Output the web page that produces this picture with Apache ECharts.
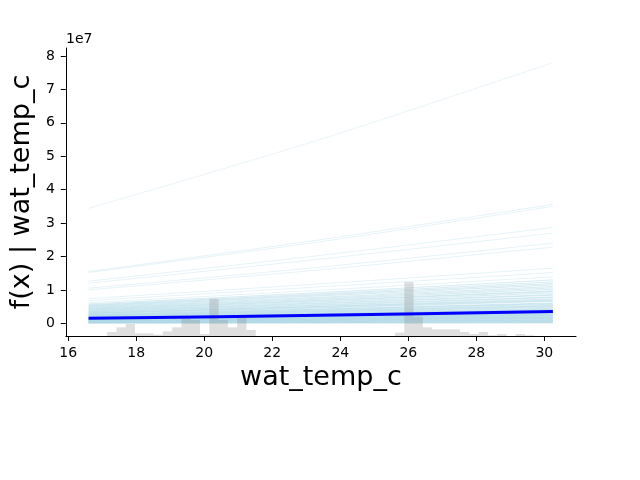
<!DOCTYPE html>
<html lang="en">
<head>
    <meta charset="UTF-8">
    <title>wat_temp_c partial dependence</title>
    <script src="https://cdn.jsdelivr.net/npm/echarts@6/dist/echarts.min.js"></script>
</head>
<body style="margin:0;">
<div id="main" style="width:640px;height:480px;"></div>

<script type="text/javascript">
    // grid points where the ICE / PD curves are read (wat_temp_c)
    var gridX = [16.6, 23.4, 30.25];

    // ICE curves, values in millions: [at 16.6, at 23.4, at 30.25]
    var iceLines = [
        [34.4, 55.0, 78.0],
        [15.5, 25.0, 35.6], [15.2, 24.4, 35.0],
        [12.6, 20.3, 28.7], [12.0, 19.2, 27.0],
        [10.5, 16.8, 24.0], [10.0, 16.0, 22.8],
        [7.4, 11.8, 16.5], [6.8, 10.9, 15.2], [6.2, 9.9, 13.9],
        [5.8, 9.2, 13.0], [5.5, 8.8, 12.4], [5.3, 8.5, 11.9], [5.1, 8.2, 11.5],
        [4.9, 7.8, 11.0], [4.7, 7.5, 10.6], [4.5, 7.2, 10.2], [4.3, 6.9, 9.7],
        [4.2, 6.7, 9.5], [4.0, 6.4, 9.1], [3.8, 6.1, 8.6], [3.7, 5.9, 8.4],
        [3.5, 5.6, 7.9], [3.4, 5.4, 7.7], [3.2, 5.1, 7.3], [3.1, 5.0, 7.0],
        [3.0, 4.8, 6.8], [2.9, 4.6, 6.6], [2.7, 4.3, 6.1], [2.6, 4.2, 5.9],
        [2.5, 4.0, 5.7], [2.4, 3.8, 5.4], [2.3, 3.7, 5.2], [2.2, 3.5, 5.0],
        [2.1, 3.4, 4.8], [2.0, 3.2, 4.5], [1.9, 3.0, 4.3], [1.8, 2.9, 4.1],
        [1.75, 2.8, 4.0], [1.7, 2.7, 3.9], [1.65, 2.65, 3.75], [1.6, 2.6, 3.6],
        [1.55, 2.5, 3.5], [1.5, 2.4, 3.4], [1.45, 2.3, 3.3], [1.4, 2.2, 3.2],
        [1.35, 2.15, 3.1], [1.3, 2.1, 3.0], [1.25, 2.0, 2.85], [1.2, 1.9, 2.7],
        [1.15, 1.8, 2.6], [1.1, 1.8, 2.5], [1.05, 1.7, 2.4], [1.0, 1.6, 2.3],
        [0.95, 1.5, 2.2], [0.9, 1.4, 2.0], [0.85, 1.35, 1.9], [0.8, 1.3, 1.8],
        [0.75, 1.2, 1.7], [0.7, 1.1, 1.6], [0.65, 1.05, 1.5], [0.6, 1.0, 1.4],
        [0.55, 0.9, 1.25], [0.5, 0.8, 1.1], [0.45, 0.7, 1.0], [0.4, 0.65, 0.9],
        [0.35, 0.55, 0.8], [0.3, 0.5, 0.7], [0.25, 0.4, 0.55], [0.2, 0.3, 0.45],
        [0.15, 0.25, 0.35], [0.1, 0.15, 0.2], [0.05, 0.08, 0.1]
    ];

    // average (partial dependence), millions
    var pdValues = [1.5, 2.4, 3.5];

    // histogram of wat_temp_c, 50 bins between the data extremes
    var histLo = 16.6;
    var histHi = 30.25;
    var histCounts = [
        0, 0, 6, 13, 18, 4, 4, 2, 7, 13,
        26, 24, 3, 56, 24, 13, 28, 9, 0, 0,
        0, 0, 0, 0, 0, 0, 0, 0, 0, 0,
        0, 0, 0, 5, 81, 29, 13, 10, 10, 10,
        6, 3, 6, 1, 3, 0, 3, 1, 0, 0
    ];

    var xTicks = [16, 18, 20, 22, 24, 26, 28, 30];
    var yTicks = [0, 10, 20, 30, 40, 50, 60, 70, 80];

    var font = 'DejaVu Sans';
    var myChart = echarts.init(document.getElementById('main'), null, {renderer: 'canvas'});

    var series = [];
    for (var i = 0; i < iceLines.length; i++) {
        var pts = [];
        for (var j = 0; j < gridX.length; j++) {
            pts.push([gridX[j], iceLines[i][j]]);
        }
        // the crowded bottom of the bundle looks denser in the original
        var op = iceLines[i][0] < 6 ? 0.5 : 0.3;
        if (i === 0) op = 0.25;
        series.push({
            type: 'line',
            data: pts,
            smooth: 0.3,
            showSymbol: false,
            silent: true,
            z: 2,
            lineStyle: {color: '#add8e6', width: 1, opacity: op}
        });
    }

    var binW = (histHi - histLo) / histCounts.length;
    var histData = [];
    for (var k = 0; k < histCounts.length; k++) {
        if (histCounts[k] > 0) {
            histData.push([histLo + k * binW, histLo + (k + 1) * binW, histCounts[k]]);
        }
    }
    series.push({
        type: 'custom',
        xAxisIndex: 0,
        yAxisIndex: 1,
        silent: true,
        z: 3,
        data: histData,
        renderItem: function (params, api) {
            var p0 = api.coord([api.value(0), 0]);
            var p1 = api.coord([api.value(1), api.value(2)]);
            return {
                type: 'rect',
                shape: {x: p0[0], y: p1[1], width: p1[0] - p0[0], height: p0[1] - p1[1]},
                style: {fill: 'rgba(128,128,128,0.25)'}
            };
        }
    });

    var pdPts = [];
    for (var m = 0; m < gridX.length; m++) {
        pdPts.push([gridX[m], pdValues[m]]);
    }
    series.push({
        type: 'line',
        data: pdPts,
        smooth: 0.3,
        showSymbol: false,
        silent: true,
        z: 4,
        lineStyle: {color: '#0000ff', width: 3}
    });

    var option = {
        animation: false,
        backgroundColor: '#ffffff',
        grid: {left: 65, right: 64, top: 48, bottom: 144},
        graphic: [{
            type: 'text',
            left: 66,
            top: 32,
            style: {text: '1e7', fontFamily: font, fontSize: 14, fill: '#000'}
        }],
        xAxis: {
            type: 'value',
            min: 15.93,
            max: 30.93,
            name: 'wat_temp_c',
            nameLocation: 'middle',
            nameGap: 28,
            nameTextStyle: {fontFamily: font, fontSize: 27, color: '#000'},
            axisLine: {onZero: false, lineStyle: {color: '#000', width: 1}},
            axisTick: {show: true, length: 5, customValues: xTicks, lineStyle: {color: '#000'}},
            axisLabel: {customValues: xTicks, margin: 10, fontFamily: font, fontSize: 14, color: '#000'},
            splitLine: {show: false}
        },
        yAxis: [{
            type: 'value',
            min: -3.8,
            max: 82.4,
            name: 'f(x) | wat_temp_c',
            nameLocation: 'middle',
            nameGap: 30,
            nameTextStyle: {fontFamily: font, fontSize: 27, color: '#000'},
            axisLine: {show: true, onZero: false, lineStyle: {color: '#000', width: 1}},
            axisTick: {show: true, length: 5, customValues: yTicks, lineStyle: {color: '#000'}},
            axisLabel: {
                customValues: yTicks, margin: 11, fontFamily: font, fontSize: 14, color: '#000',
                formatter: function (v) { return String(v / 10); }
            },
            splitLine: {show: false}
        }, {
            type: 'value',
            min: 0,
            max: 432,
            show: false,
            splitLine: {show: false}
        }],
        series: series
    };

    myChart.setOption(option);
</script>
</body>
</html>
